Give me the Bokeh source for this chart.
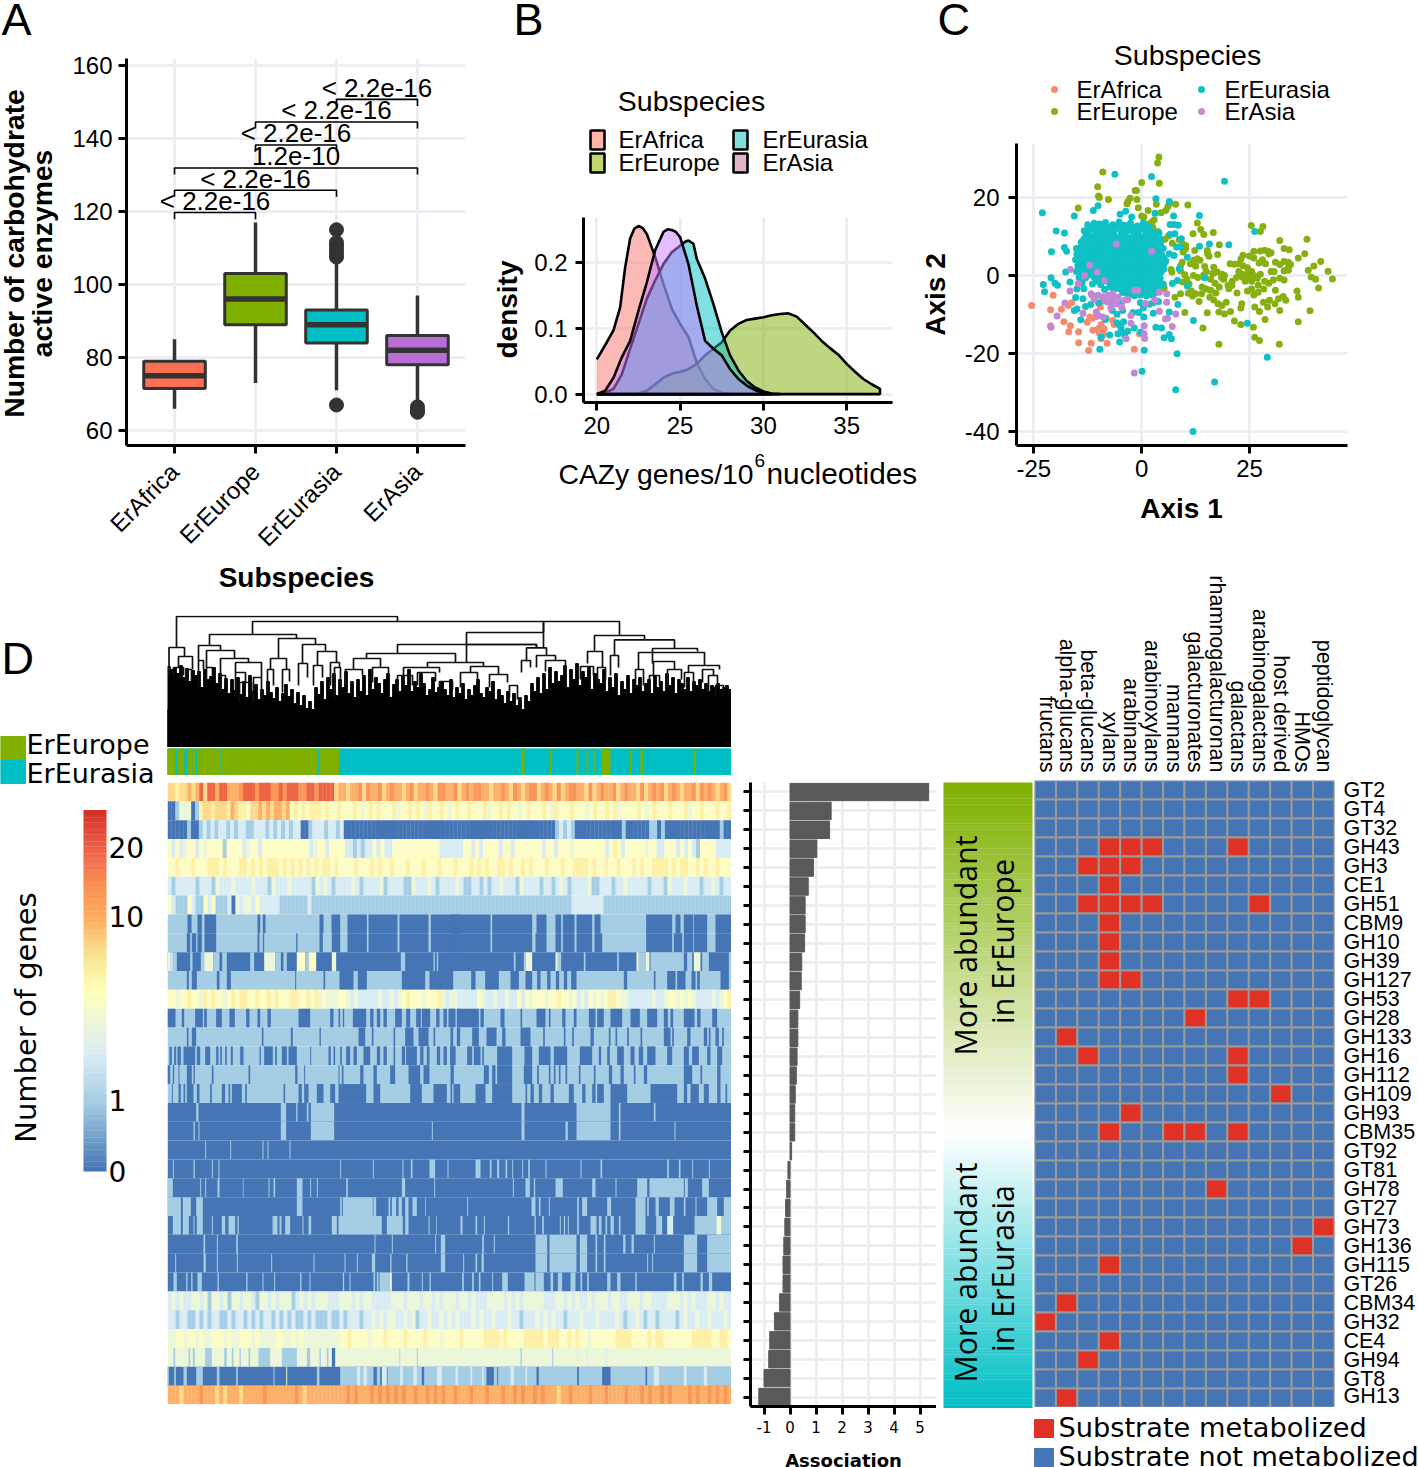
import numpy as np
from bokeh.plotting import figure
from bokeh.layouts import column
from bokeh.embed import file_html
from bokeh.resources import INLINE
from bokeh.models import Range1d, FactorRange, FixedTicker, LinearColorMapper, ColumnDataSource, CategoricalAxis
from bokeh.core.properties import value
from bokeh.transform import transform

SANS = "Liberation Sans"
DEJA = "DejaVu Sans"
NOTO = "Open Sans"

SUBSPECIES = ["ErAfrica", "ErEurope", "ErEurasia", "ErAsia"]
BOX_FILL = ["#fb7052", "#7fb000", "#00bfc4", "#b96ed6"]

# ---------- panel A ----------
box_q1 = [71.5, 89, 84, 78]
box_med = [75, 96, 89, 82]
box_q3 = [79, 103, 93, 86]
box_lo = [66, 73, 71, 68]
box_hi = [85, 117, 108, 97]
out_x = [3, 3, 3, 3, 3, 3, 3, 4, 4, 4]
out_y = [115, 111.5, 110.5, 109.5, 108.5, 107.5, 67, 66.5, 65.5, 65]
brk_a = [1, 1, 1, 2, 2, 3]
brk_b = [2, 3, 4, 3, 4, 4]
brk_y = [119.7, 125.8, 131.9, 138.2, 144.5, 150.7]
brk_txt = ["< 2.2e-16", "< 2.2e-16", "1.2e-10", "< 2.2e-16", "< 2.2e-16", "< 2.2e-16"]

# ---------- panel B ----------
af_x = [20, 20.6, 21, 21.4, 21.7, 22, 22.25, 22.5, 22.75, 23, 23.5, 24, 24.5, 25, 25.5, 26, 26.5, 27, 27.5, 28]
af_y = [.053, .079, .097, .132, .193, .237, .252, .256, .253, .244, .209, .168, .13, .107, .087, .048, .023, .008, .002, 0]
eu_x = [20, 22.3, 22.5, 23, 23.5, 24, 24.5, 25, 25.5, 26, 26.5, 27, 27.5, 28, 28.5, 29, 29.5, 30, 30.5, 31, 31.5, 32, 32.5, 33, 33.5, 34, 34.5, 35, 35.5, 36, 36.5, 37]
eu_y = [0, 0, .001, .005, .015, .025, .031, .034, .038, .046, .059, .069, .079, .097, .107, .113, .115, .117, .12, .122, .123, .118, .106, .094, .081, .07, .06, .046, .034, .023, .015, .008]
ea_x = [20, 20.5, 21, 21.5, 22, 22.5, 23, 23.5, 24, 24.5, 25, 25.3, 25.5, 25.8, 26, 26.5, 27, 27.5, 28, 28.5, 29, 29.5, 30, 30.5, 31]
ea_y = [0, .002, .008, .03, .069, .107, .145, .173, .198, .216, .226, .232, .234, .229, .206, .176, .137, .094, .059, .036, .02, .01, .004, .001, 0]
as_x = [20, 20.5, 21, 21.5, 22, 22.5, 23, 23.5, 24, 24.25, 24.5, 24.75, 25, 25.5, 26, 26.5, 27, 27.5, 28, 28.5, 29, 29.5, 30, 30.5]
as_y = [0, .005, .025, .056, .081, .127, .17, .219, .247, .251, .25, .247, .239, .198, .135, .081, .069, .059, .038, .023, .013, .006, .002, 0]

# ---------- panel C (axis 1, axis 2) ----------
africa_pts = [(-25.5,-7.7),(-20.5,-5.1),(-21.1,-8.8),(-18.6,-8.7),(-17,-7.7),(-21.1,-12.9),(-18,-11.9),(-16.5,-12.9),(-16.9,-14.5),(-14.6,-14.5),(-14.6,-17.3),(-11.7,-17.4),(-12.3,-19.3),(-12.6,-12),(-12,-10.7),(-11.3,-14.1),(-10.1,-13.7),(-9.4,-12.6),(-8.7,-13.7),(-9.6,-8.1),(-6.7,-11.6),(-6.4,-12.6),(-8,-17.4),(-9.4,-16.3),(-1.7,-19),(-.5,-15),(-11.5,-11),(-9.8,-14.8),(-16.2,-7),(-8.2,-11),(-10.6,-10.6),(-8.9,-15.2)]
europe_pts = [(4,30.4),(3.7,28.9),(-9,26.6),(0,23.9),(4.1,23.7),(-10.2,22.8),(-10,20.4),(-9.8,20),(-7.7,19.5),(-14.7,17.3),(-1.5,21.8),(-1.2,21.8),(-2.7,19.8),(-3.2,19),(-3.4,18.4),(-1.1,19.5),(3.4,18.3),(-.8,17.4),(1.5,16.7),(4.5,16.1),(5.6,16.7),(6.1,17.7),(6.5,18.6),(7.9,18.3),(10.7,18.1),(0,15.3),(.5,15),(2.9,14.3),(2.4,13.7),(1.8,13.3),(2.6,12.4),(3.8,11.3),(12.9,13.5),(13.7,11.8),(14.4,10.5),(11.9,10.7),(16.6,11),(6.2,10.1),(5.4,9.3),(8.7,9.2),(7.1,8.3),(9.5,8.1),(10.2,7.7),(10.2,6.9),(12.3,6.4),(9.6,6),(15.2,6.4),(15.3,5.6),(15.6,4.9),(17.6,5.4),(18,7.9),(12.9,4.3),(12.1,3.9),(13.5,3.9),(11.3,3),(9.4,3.4),(9,2.4),(12.5,2.4),(14.6,2.3),(16.7,2.1),(17.5,.9),(18.6,.3),(14.4,.2),(14.6,-.6),
(25.4,12.8),(28.1,12.6),(27.5,11.3),(32,9),(38.3,9.3),(33,6.9),(34.2,6.6),(37.8,5.6),(36.3,4.5),(41.5,3.6),(43.2,1.1),(39.9,2.4),(38.6,1.3),(44.2,-.9),(40.3,-1),(39.3,-.4),(41,-3.2),(36,-4),(36.3,-5.6),(39,-9.1),(36.3,-11.9),(31.9,-17.7),(27.3,-16.7),(26.2,-15.9),(25.9,-13.3),(28.6,-11.3),(32,-9),(33.4,-6.4),(32.8,-5.4),(31.7,-6),(30.9,-7.3),(29.2,-8.1),(29.6,-6.4),(28.2,-6.9),(27.3,-9.3),(26.2,-8.1),(23.2,-7.3),(23,-8.4),(21.5,-11.7),(23,-12.6),(20.6,-9.3),(19.2,-9.9),(17.9,-17.7),(14.2,-13.5),(10,-9.5),(15.2,-9.6),(17.9,-9.4),(17.7,-7.3),(18.6,-7.7),(19.6,-6.9),(22.1,-4.5),(20.2,-3.4),(20.9,-2.6),(15.8,-5.6),(13.3,-6.7),(12.5,-4.7),(11.5,-4),(9,-4.7),(7.7,-5.6),(5.2,-3.3),
(24,0),(24.5,.5),(23.5,-.5),(25,-.5),(25.5,-1.5),(24,-1.5),(23,.5),(22.5,1),(25.5,1),(26,0),(26.8,-.7),(27.5,.3),(24.5,2),(23.5,2.5),(22.5,3),(21.5,2.9),(20.5,3),(23,4.2),(23.5,5.2),(25,5),(26,4.5),(27.2,3.2),(28,4),(28.7,3),(30,5.8),(29.3,6.2),(27.5,6.3),(26,6.2),(28.5,6.5),(29.5,5.5),(31,3.4),(32,2.8),(33,3.6),(34,2),(34.5,2.8),(34,3.4),(33,1.2),(34,1.3),(30,1),(30.7,1),(32,-.7),(30.5,-1.2),(29.5,-2),(28.5,-1.5),(27,-2.5),(25.5,-3.5),(24.5,-4),(26,-5),(27,-4.3),(28.3,-3.5),(31,-3.8),(33,-1.2),(22,-.5),(21,-1.5),(20,-2.5),(19,-1),
(12,0),(13,-.5),(15,1),(16,-1),(17,-2),(18,-3),(14,-3),(15,-3.5),(16,-3.8),(10.5,-1),(11,-2.2),(9.5,-1.7),(16.5,.5),(18.5,-.5),(19.2,0),(11.8,-5.3),(13.9,-4.7),(16.7,-6.3),(17.2,-4.5),(10.8,-4.6),(7,.9),(6.8,1.5),(9,1.2),(10,.2),(0,5),(-1.5,-2.5),(3,-1),(5.1,-3.1)]
eurasia_pts = [(-23,16.1),(-19.8,11.4),(-17.9,10.9),(-15.6,15.3),(-11.2,16.7),(-10.1,17.9),(-6.2,26),(2.3,25.4),(3.3,19.7),(6.4,19),(3.1,16),(-5,15.7),(-3.7,16.5),(-2.3,15),(7.4,15.3),(13.4,15.4),(19.2,24.2),(6.6,13.1),(7.5,13.1),(8.5,12.9),(7.7,10.7),(6.6,10.5),(9.2,9.4),(13.4,7.5),(15.7,8.1),(20.2,7.9),(26.2,11.3),(-20.9,6.1),(-17.9,7.2),(-17.4,6.2),(-15.1,6.9),(-21,-.6),(-22.8,-2.3),(-22.5,-4.2),(-20.1,-2),(-19.5,-2.5),(-17.6,.9),(-16.6,-1.7),(-15.6,-9),(-15,-8.6),(-14.1,-11.4),(-15.3,-5.7),(-8.4,-11.3),(-9.4,-15.9),(-7.4,-15.3),(-5.1,-17.1),(-9.7,-19),(.6,-19.2),(.1,-24.6),(8.2,-20.1),(7.9,-29.4),(16.9,-27.4),(11.9,-40.1),(12,-11.6),(24.5,-12.3),(29.1,-21),(5.2,-16),(6.9,-16.3),(6.4,-15.2),(4.6,-13.5),(3.3,-13.3),(-1.7,-13.5),(-3.2,-14.3),(-4.8,-13.3),(-5.5,-15),(-.2,-14.6),(6.4,-9.4),(8.4,-7.5),(2.7,-9.7),(.5,-10.7),(10.6,-2.7),(14.6,-.6),(10.6,4.7),(8.7,1.7),(8.3,-1.3),(7.1,-2.1),(9,7.3),(8.1,7.3),(6.4,5.6),(7.5,5.1),
(-5,-13),(-4.2,-11.9),(-5.7,-12.2),(-3.9,-15.5),(-4.6,-14.4),(-13,-8),(-11.8,-7.5),(-10,-7),(-9,-6.6),(-6.8,-9),(-5.7,-10),(-4.4,-9),(-2,-9.5),(-.7,-9.5),(.4,-8.4),(1.8,-7.4),(2.7,-7),(3.9,-6.7),(-.3,-7),(-4.8,-7.2),(-7,-6.7),(-13.6,-6),(-11.5,-5),(-15,-3.5),(-13.4,-3.4),
(-12.5,13),(-11,13.4),(-9.8,13.2),(-8.4,13.6),(-6.7,13),(-5.2,13.7),(-4,12.9),(-2.6,13.4),(-1,12.7),(.4,13.6),(1.8,12.6),
(-13.3,11.5),(-12,11.8),(-10.6,11.2),(-9,11.7),(-7.8,11.1),(-6.3,11.6),(-4.7,11.1),(-3.3,11.7),(-2,11.1),(-.6,11.6),(1,11.1),(2.5,11),(4,10.9),
(-13,10),(-11.5,9.8),(-10.2,10.3),(-8.7,9.9),(-7.3,10.2),(-5.8,9.8),(-4.4,10.1),(-3,9.7),(-1.5,10),(0,9.8),(1.3,10),(2.8,9.7),(4.2,9.5),
(-14,8.5),(-12.7,8.6),(-11.2,8.3),(-9.9,8.6),(-8.4,8.2),(-7,8.6),(-5.6,8.2),(-4.2,8.5),(-2.8,8.2),(-1.3,8.5),(.1,8.2),(1.5,8.5),(3,8.2),(4.4,8.3),
(-14.6,7),(-13.2,6.9),(-11.8,7.1),(-10.4,6.8),(-9,7.1),(-7.6,6.8),(-6.2,7.1),(-4.8,6.8),(-3.4,7),(-2,6.7),(-.6,7),(.8,6.8),(2.2,7),(3.6,6.8),(5,6.9),
(-15,5.5),(-13.6,5.4),(-12.2,5.6),(-10.8,5.3),(-9.4,5.6),(-8,5.3),(-6.6,5.6),(-5.2,5.3),(-3.8,5.5),(-2.4,5.2),(-1,5.5),(.4,5.2),(1.8,5.5),(3.2,5.2),(4.6,5.4),
(-15.3,4),(-13.9,3.9),(-12.5,4.1),(-11.1,3.8),(-9.7,4.1),(-8.3,3.8),(-6.9,4.1),(-5.5,3.8),(-4.1,4),(-2.7,3.7),(-1.3,4),(.1,3.7),(1.5,4),(2.9,3.7),(4.3,3.9),(5.6,3.7),
(-14.8,2.5),(-13.4,2.4),(-12,2.6),(-10.6,2.3),(-9.2,2.6),(-7.8,2.3),(-6.4,2.6),(-5,2.3),(-3.6,2.5),(-2.2,2.2),(-.8,2.5),(.6,2.2),(2,2.5),(3.4,2.2),(4.8,2.4),
(-15.1,1),(-13.7,.9),(-12.3,1.1),(-10.9,.8),(-9.5,1.1),(-8.1,.8),(-6.7,1.1),(-5.3,.8),(-3.9,1),(-2.5,.7),(-1.1,1),(.3,.7),(1.7,1),(3.1,.7),(4.5,.9),
(-14.5,-.5),(-13,-.6),(-11,-.4),(-9.7,-.7),(-8.3,-.4),(-6.9,-.7),(-5.5,-.4),(-4.1,-.6),(-2.7,-.9),(-1.3,-.6),(.1,-.9),(1.5,-.6),(2.9,-.9),(4.3,-.7),
(-13.8,-2),(-11.4,-2.2),(-9.5,-2.4),(-7.4,-2),(-6,-2.2),(-4.6,-2),(-3.2,-2.3),(-1.8,-2),(-.4,-2.3),(1,-2),(2.4,-2.3),(3.8,-2),(5,-2.2),
(-8.6,-3.6),(-6.5,-3.6),(-5.1,-3.4),(-3.7,-3.7),(-2.3,-3.4),(-.9,-3.7),(.5,-3.4),(1.9,-3.7),(3.3,-3.4),
(-3.1,-5),(-1.7,-5.2),(-.3,-5),(1.1,-5.2),(2.5,-5.1),
(-11.7,12.4),(-10.3,12.5),(-8.9,12.3),(-7.4,12.4),(-5.9,12.3),(-4.5,12.4),(-3.2,12.2),(-1.7,12.3),(-.1,12.2),(1.1,12.2),(-12.2,10.8),(-9.4,10.8),(-6.5,10.9),(-3.7,10.6),(-.8,10.7),(2,10.5),(3.3,10.5),
(-13.4,9.3),(-11.9,9.2),(-10.6,9.3),(-9.2,9.2),(-7.7,9.4),(-6.3,9.1),(-4.9,9.3),(-3.5,9),(-2.1,9.2),(-.6,9.1),(.7,9.2),(2.2,9),(3.6,9),(-13.3,7.8),(-11.9,7.8),(-10.5,7.7),(-9.2,7.9),(-7.7,7.7),(-6.3,7.9),(-4.9,7.6),(-3.5,7.8),(-2.1,7.5),(-.7,7.8),(.7,7.5),(2.2,7.8),(3.6,7.6),
(-13.9,6.2),(-12.5,6.3),(-11.1,6.1),(-9.7,6.4),(-8.3,6),(-6.9,6.3),(-5.5,6),(-4.1,6.2),(-2.7,5.9),(-1.3,6.2),(.1,6),(1.5,6.2),(2.9,5.9),(4.3,6.1),(-14.3,4.7),(-12.9,4.8),(-11.5,4.6),(-10.1,4.8),(-8.7,4.5),(-7.3,4.8),(-5.9,4.5),(-4.5,4.7),(-3.1,4.4),(-1.7,4.7),(-.3,4.4),(1.1,4.7),(2.5,4.4),(3.9,4.6),(5.2,4.5),
(-14.1,3.2),(-12.7,3.2),(-11.3,3),(-9.9,3.3),(-8.5,3),(-7.1,3.3),(-5.7,3),(-4.3,3.2),(-2.9,2.9),(-1.5,3.2),(-.1,2.9),(1.3,3.2),(2.7,2.9),(4.1,3.1),(5.2,3),(-14.4,1.8),(-13,1.6),(-11.6,1.8),(-10.2,1.5),(-8.8,1.8),(-7.4,1.5),(-6,1.8),(-4.6,1.5),(-3.2,1.7),(-1.8,1.4),(-.4,1.7),(1,1.4),(2.4,1.7),(3.8,1.4),(5.1,1.6),
(-13.8,.2),(-12,.2),(-10.4,.2),(-8.8,.2),(-7.4,.1),(-6,.3),(-4.6,.1),(-3.2,0),(-1.8,.2),(-.4,-.1),(1,.1),(2.4,-.1),(3.8,.1),(-10.5,-1.5),(-8.9,-1.5),(-7.6,-1.3),(-6.2,-1.5),(-4.8,-1.3),(-3.4,-1.6),(-2,-1.3),(-.6,-1.6),(.8,-1.3),(2.2,-1.6),(3.6,-1.4),(-7.4,-3),(-5.8,-2.9),(-4.4,-2.8),(-3,-3),(-1.6,-2.8),(-.2,-3),(1.2,-2.8),(2.6,-3),(4,-2.9),(-4.4,-4.4),(-3,-4.3),(-1,-4.4),(.4,-4.4),(1.8,-4.5),(3.2,-4.4)]
asia_pts = [(-16.5,1.5),(-16.6,-4),(-17.8,-7.1),(-19.6,-10.4),(-21,-13.3),(-1.7,-25.1),(-5.9,8.1),(2.3,6.2),(-12,2.6),(-14.7,-2.1),(-13.2,0),(-11.7,-4.7),(-10.3,.9),(-8.6,-1.3),(-10.1,-5.1),(-9,-5.5),(-7.8,-5.1),(-6.7,-4.7),(-5.5,-5.6),(-6.7,-6.4),(-5.9,-7.3),(-4,-6.4),(-7.8,-6.9),(-1.7,-3.9),(-.9,-3.9),(4.1,-4.3),(5.8,-4.7),(5.8,-6.9),(4.1,-9.2),(7.9,-9.9),(6,-11),(5.5,-11.2),(7.1,-13.1),(.6,-15),(.7,-16.2),(-2.5,-12.3),(-3.6,-16.3),(.6,-12.9),(-2.5,-10.3),(-10.1,-10.3),(-9,-10.7),(-13.6,-9.7),(-10.5,-9.4),(-8.5,-6.5),(-4.6,-8.2),(-3.2,-6.2),(-7.1,-8.4),(-11,-6.1),(.9,-7.2),(3.1,-6.3)]

# ---------- panel D ----------
dendro_links = [
 (9,230,131,100,126),(85,376,126,113,115),(1.5,17,100,72,91),(11,25,91,80,78),(6,16,80,70,72),(19,24,78,62,66),
 (42,129,113,102,109),(31,53,102,87,97),(31,36,87,60,78),(39,67,97,80,89),(39,45,80,60,70),(53,81,89,72,85),(53,58,72,55,62),
 (68,94,85,75,70),(68,78,75,50,65),(72,84,65,45,52),(86,94,70,45,48),
 (111,148,109,89,103),(103,119,89,78,78),(100,106,78,55,62),(115,122,78,55,66),(135,158,103,84,96),(131,140,84,62,70),(150,169,96,82,85),
 (146,155,82,62,70),(163,172,85,62,80),(167,173,80,50,60),
 (230,369,103,94,99.6),(199,288,94,89,85),(186,213,89,78,80),(178,195,78,62,72),(205,221,80,65,72),(260,316,85,80,81),
 (236,272,80,70,75),(230,245,72,55,62),(250,268,75,62,66),(272,285,66,50,58),(303,331,81,75,73),(293,310,75,60,66),(322,340,73,60,65),(342,350,62,50,48),
 (299,369,103,85,99.6),(359,379,99.6,86,92),(354,363,87,75,80),(369,388,92,80,87),(378,398,87,76,78),
 (299,376,115,103,99.6),(376,452,126,115,112),(427,477,112,96,107.6),(420,435,96,84,80),(413,426,81,68,72),(430,438,80,62,68),
 (447,507,107.6,92,99),(443,451,92,72,80),(485,530,99,84,96),(471,537,95,78,82),(468,476,78,60,62),(486,507,86,72,78),(482,492,72,55,62),
 (500,514,78,60,68),(521,552,82,75,78),(517,526,75,60,62),(535,546,78,65,72),(541,550,72,55,62),(548,556,62,50,52)]
blob_h = [81,78,80,74,82,70,79,66,77,72,76,60,78,68,71,80,64,74,58,69,54,68,57,70,53,66,50,72,56,63,48,58,52,66,55,49,60,46,54,63,51,58,44,55,42,52,39,46,38,60,
 53,66,48,70,58,74,52,68,60,76,54,66,50,68,56,72,52,78,58,70,64,54,68,74,50,63,68,56,72,62,78,56,66,60,74,64,52,58,70,55,60,66,58,52,68,50,60,54,64,48,
 58,52,62,68,54,50,60,56,66,48,58,52,44,56,46,54,42,50,38,52,46,64,56,70,54,74,58,80,64,76,66,72,82,60,78,68,84,62,76,70,80,58,74,68,64,78,56,70,60,74,
 52,66,58,72,54,68,62,70,56,64,68,54,72,60,66,56,74,62,70,54,68,64,58,70,56,66,62,68,58,64,56,62,60,64,58,60,62,58]
ann_green = [(0,7.3),(10.3,16.3),(20.3,24.7),(26.3,28),(30,31),(33,34),(35,39.5),(40.3,49.7),(51,52),(53.5,54.5),(55,70),(70.8,106),(106.8,149.7),(152.3,171),
 (354,356.5),(383,383.8),(409.5,410.5),(419.5,420.2),(426,426.7),(434.5,436),(437,439),(440,442.5),(463,463.8),(473.5,475),(527,528)]

ROWS = ["GT2","GT4","GT32","GH43","GH3","CE1","GH51","CBM9","GH10","GH39","GH127","GH53","GH28","GH133","GH16","GH112","GH109","GH93","CBM35","GT92","GT81","GH78","GT27","GH73","GH136","GH115","GT26","CBM34","GH32","CE4","GH94","GT8","GH13"]
association = [5.33,1.58,1.52,1.03,.9,.7,.58,.58,.56,.45,.43,.37,.3,.3,.27,.24,.2,.18,.18,.06,-.08,-.13,-.17,-.2,-.24,-.27,-.27,-.4,-.6,-.78,-.82,-1.0,-1.2]
SUBSTRATES = ["fructans","alpha-glucans","beta-glucans","xylans","arabinans","arabinoxylans","mannans","galacturonates","rhamnogalacturonan","galactans","arabinogalactans","host derived","HMOs","peptidoglycan"]
metabolized = {"GH43":[3,4,5,9],"GH3":[2,3,4],"CE1":[3],"GH51":[2,3,4,5,10],"CBM9":[3],"GH10":[3],"GH39":[3],"GH127":[3,4],"GH53":[9,10],"GH28":[7],"GH133":[1],"GH16":[2,9],"GH112":[9],"GH109":[11],"GH93":[4],"CBM35":[3,6,7,9],"GH78":[8],"GH73":[13],"GH136":[12],"GH115":[3],"CBM34":[1],"GH32":[0],"CE4":[3],"GH94":[2],"GH13":[1]}

LEVELS = ["#4575b4","#a5cde3","#d9ecf4","#ecf6d8","#fcfcc6","#fef0a6","#fed98b","#fdb168","#f9975a","#ee6544","#d73027"]

# ---------- heat rows ----------
heat_text = {
 "GT2":"66566767969979977789998999889899988998999967"+"76778687786787767867787688778678788776778768767886787686788776867877867877686787867876778687876786",
 "GT4":"001333015665666576554667676776745454555454454"+"44543454544453445454354454345445444534454544345444543544454443454454534444543454445444534454445445",
 "GT32":"0000010012121221212211222121212122001222122120"+"00000000000000000000000000000000000000000000000000000121210000000000001000000110100000000000000100",
 "GH43":"424234424344441444423442444444444444234424444"+"22121224242244444444444422222244242444424424444444244244434444444424542444443442244424242144442222",
 "GH3":"44544454445554544455454545554545454545455454"+"44454445454454445444544454445444545454455454454544454445445555454454454445454455554545544545445444",
 "CE1":"2122222122213222322223222132223222221323212"+"22232122223122221132223212222321122121223222132222122123212222311222122322222122213222322212232122",
 "GH51":"4211142114241112032332422222111111121111111"+"11111111111111111111111111111111111111111111111111111111112222222211111111111111111111111111111111",
 "GH53":"44344544354544345455445445454445544545343334"+"43232222232232345444344453233222224322322322424344434454434232434345543322222232234434343222232345",
 "CBM34":"2323223323133231332332133232333123232333222"+"33323233222223332333233232333233232223333232323333322233232322323332332233323322223332323222332322",
 "GH32":"2212211212122112122121212212121211212111211"+"21222122323233223231223223232322232322322232212223232322122232223222232122321221222212322322322232",
 "CE4":"3344344343344434334443433334433434333333333"+"44544443444544445444454443444454444455554544445555545554454544344444455554444545544444445555544554",
 "GH13":"77767777877767677767777787777777876777777777"+"78787778787878787787787878778777877787778778787787877767787777877787777877787877878777787877878787",
}
heat_sparse = {
 "CBM9":(1,[(82,94,0),(112,125,0),(133,168,0),(292,300,0),(308,316,0),(478,490,0),(514,540,0),(562,620,0),(625,712,0),(718,805,0),(812,900,0)],
  [(0,120,0),(125,245,0),(258,288,0),(315,332,0),(337,372,0),(378,425,0),(432,450,0),(587,665,0),(675,690,0),(700,728,0),(730,770,0),(795,843,0)]),
 "GH10":(1,[(80,90,0),(95,108,0),(112,125,0),(133,168,0),(292,298,0),(308,312,0),(408,412,0),(478,488,0),(515,540,0),(562,620,0),(625,712,0),(718,805,0),(812,900,0)],
  [(0,120,0),(125,245,0),(255,288,0),(315,332,0),(337,372,0),(378,425,0),(432,455,0),(587,665,0),(670,695,0),(700,728,0),(730,770,0),(795,843,0)]),
 "GH39":(0,[(22,30,3),(30,38,2),(38,50,1),(90,97,1),(122,132,1),(132,160,3),(160,178,1),(186,200,1),(270,282,1),(312,345,3),(345,362,1),(370,380,1),(410,435,4),(435,445,1),(445,468,4),(515,528,3),(722,735,1),(820,824,1),(830,834,1)],
  [(190,195,1),(220,225,1),(225,245,3),(315,322,3),(322,332,1),(400,405,1),(500,505,1),(558,565,3),(565,585,1),(585,597,3),(600,700,1),(710,725,1),(730,750,3),(755,775,1),(835,843,1)]),
 "GH127":(1,[(80,86,0),(95,110,0),(170,178,0),(200,212,0),(405,408,0),(490,495,0),(538,580,0),(593,620,0),(725,795,0),(808,875,0)],
  [(0,8,0),(62,75,0),(104,145,0),(180,205,0),(225,245,0),(260,270,0),(290,300,0),(316,326,0),(340,350,0),(362,378,0),(520,530,0),(610,615,0),(650,675,0),(680,705,0),(723,735,0),(740,748,0),(810,835,0)]),
 "GH28":(1,[(22,46,0),(65,72,0),(105,128,0),(132,140,0),(168,185,0),(208,224,0),(258,268,0),(292,300,0),(322,332,0),(415,450,0),(510,520,0),(535,540,0),(548,552,0),(578,618,0),(630,640,0),(650,660,0),(670,680,0),(705,725,0),(738,750,0),(768,782,0),(785,810,0),(828,838,0),(850,860,0),(865,880,0),(890,900,0)],
  [(0,15,0),(22,85,0),(90,100,0),(150,162,0),(210,215,0),(258,285,0),(295,300,0),(335,345,0),(370,378,0),(415,435,0),(440,460,0),(480,515,0),(540,568,0),(590,620,0),(640,652,0),(660,668,0),(700,732,0),(740,750,0),(785,800,0)]),
 "GH133":(1,[(80,85,0),(95,108,0),(305,310,0),(392,398,0),(478,482,0),(595,615,0),(635,640,0),(700,705,0),(735,760,0),(775,805,0),(820,825,0),(890,900,0)],
  [(0,8,0),(65,85,0),(108,138,0),(155,165,0),(210,240,0),(278,283,0),(340,345,0),(365,370,0),(420,430,0),(475,480,0),(495,500,0),(530,535,0),(570,575,0),(640,660,0),(665,670,0),(710,720,0),(760,770,0),(775,780,0),(795,805,0),(815,820,0)]),
 "GH16":(1,[(28,35,0),(42,48,0),(52,62,0),(70,105,0),(110,120,0),(135,150,0),(168,175,0),(180,185,0),(195,200,0),(212,218,0),(240,250,0),(298,302,0),(312,338,0),(345,350,0),(365,380,0),(385,410,0),(450,453,0),(505,512,0),(520,525,0),(540,545,0),(558,570,0),(580,590,0),(610,630,0),(650,660,0),(670,680,0),(700,705,0),(725,735,0),(738,770,0),(780,790,0),(800,808,0),(830,840,0),(850,860,0),(870,885,0)],
  [(0,15,0),(50,65,0),(70,90,0),(95,100,0),(140,185,0),(222,245,0),(265,300,0),(310,350,0),(388,425,0),(445,452,0),(470,478,0),(500,520,0),(540,552,0),(565,578,0),(590,615,0),(650,665,0),(700,715,0),(725,745,0),(770,780,0),(800,815,0)]),
 "GH112":(1,[(22,30,0),(38,42,0),(55,58,0),(80,95,0),(100,104,0),(155,160,0),(265,270,0),(405,412,0),(432,435,0),(535,538,0),(545,550,0),(600,610,0),(640,650,0),(690,705,0),(745,780,0),(790,808,0)],
  [(0,10,0),(100,115,0),(125,135,0),(140,185,0),(220,245,0),(260,265,0),(295,300,0),(310,315,0),(325,330,0),(345,350,0),(385,390,0),(430,435,0),(475,485,0),(510,520,0),(550,555,0),(580,590,0),(700,725,0),(750,755,0),(800,810,0)]),
 "GH109":(1,[(35,38,0),(55,62,0),(70,75,0),(80,100,0),(110,118,0),(150,155,0),(185,195,0),(205,210,0),(215,245,0),(255,260,0),(370,375,0),(415,425,0),(432,445,0),(470,490,0),(510,525,0),(535,618,0),(640,660,0),(750,785,0),(820,860,0),(880,900,0)],
  [(0,5,0),(75,105,0),(125,185,0),(225,230,0),(240,250,0),(265,275,0),(300,310,0),(355,370,0),(395,405,0),(425,435,0),(440,460,0),(480,530,0),(600,680,0),(700,710,0),(720,745,0),(760,775,0),(800,810,0),(825,830,0)]),
 "GH93":(0,[(108,115,1),(362,378,1),(408,412,1),(440,445,1),(452,522,1)],[(213,222,1),(378,480,1),(505,510,1),(610,615,1)]),
 "CBM35":(0,[(100,104,1),(115,118,1),(362,378,1),(452,522,1),(815,818,1)],[(213,222,1),(345,352,1),(378,480,1),(505,510,1),(672,675,1)]),
 "GT92":(0,[(135,138,1),(210,213,1),(307,310,1),(322,325,1),(388,391,1)],[]),
 "GT81":(0,[(38,41,1),(100,104,1),(155,158,1),(175,178,1),(540,543,1),(638,641,1),(727,730,1),(752,757,1),(808,825,1),(862,865,1)],
  [(75,90,1),(118,123,1),(140,146,1),(165,170,1),(185,188,1),(215,218,1),(233,238,1),(285,288,1),(390,393,1),(450,455,1),(650,655,1),(685,690,1),(725,728,1),(775,778,1)]),
 "GH78":(0,[(22,38,1),(120,123,1),(135,138,1),(172,178,1),(248,250,1),(325,328,1),(340,345,1),(410,427,1),(450,453,1),(470,473,1),(558,563,1),(725,735,1),(822,825,1)],
  [(187,190,1),(225,238,1),(250,254,1),(315,337,1),(425,435,1),(495,498,1),(560,590,1),(597,700,1),(703,712,1),(755,775,1)]),
 "GT27":(0,[(22,62,1),(68,92,1),(108,128,1),(410,427,1),(540,545,1),(548,638,1),(640,648,1),(685,690,1),(695,708,1),(715,725,1),(735,745,1),(757,770,1),(795,797,1)],
  [(50,53,1),(243,255,1),(265,270,1),(295,298,1),(380,385,1),(395,410,1),(470,482,1),(555,585,1),(590,595,1),(615,625,1),(658,672,1),(700,705,1),(735,738,1),(770,800,1),(820,843,1)]),
 "GH73":(0,[(38,62,1),(68,86,1),(100,103,1),(110,128,1),(155,158,1),(185,195,1),(205,225,1),(232,236,1),(337,352,1),(358,364,1),(375,390,1),(427,430,1),(445,453,1),(515,530,1),(535,665,1),(680,728,1),(735,745,1),(805,808,1),(828,830,1)],
  [(30,36,1),(75,80,1),(100,103,1),(172,176,1),(252,256,1),(275,280,1),(328,331,1),(340,344,1),(352,355,1),(380,385,1),(420,438,1),(445,453,1),(465,470,1),(480,490,1),(505,510,1),(555,585,1),(617,635,1),(650,668,2),(732,843,1),(798,812,3)]),
 "GH136":(0,[(130,135,1),(170,173,1),(228,233,1),(643,646,1),(695,698,1),(825,828,1),(842,855,1)],
  [(95,100,1),(130,133,1),(255,290,1),(297,378,1),(388,410,1),(435,440,1),(460,465,1),(518,525,1),(543,550,1),(610,613,1),(700,740,1),(770,843,1)]),
 "GH115":(0,[(45,48,1),(130,137,1),(170,173,1),(230,233,1),(333,336,1),(460,463,1),(553,556,1),(590,593,1),(635,645,1),(690,694,1),(738,742,1),(842,855,1)],
  [(38,41,1),(75,80,1),(93,100,1),(255,290,1),(297,378,1),(388,410,1),(435,440,1),(460,465,1),(590,593,1),(605,608,1),(700,740,1),(770,843,1)]),
 "GT26":(0,[(40,50,1),(78,82,1),(93,97,1),(112,125,1),(172,176,1),(258,262,1),(307,310,1),(342,345,1),(420,424,1),(448,451,1),(548,552,1),(568,571,1),(640,645,1),(650,655,1),(658,688,1),(688,695,3),(742,748,1),(785,788,1),(808,812,1)],
  [(35,40,1),(65,70,1),(85,90,1),(125,128,1),(155,172,1),(222,252,1),(255,280,1),(300,308,1),(322,335,1),(360,375,1),(390,395,1),(410,415,1),(470,480,1),(500,510,1),(555,558,2),(670,678,1),(695,700,1),(750,757,1),(775,785,1)]),
 "GH94":(3,[(40,45,1),(85,90,1),(98,104,1),(135,155,1),(192,200,1),(215,220,1),(238,242,1),(265,270,1),(295,330,1),(365,410,1),(440,450,1),(478,482,1),(500,505,1),(515,525,0),(718,720,1),(770,773,1)],
  [(210,214,1),(305,308,1),(380,383,2),(408,411,2),(465,470,2)]),
 "GT8":(0,[(22,26,1),(42,47,1),(70,80,1),(108,128,1),(170,178,1),(228,233,1),(340,343,1),(378,381,3),(470,478,1),(540,640,1),(650,660,1),(665,680,2),(682,785,1),(792,900,1),(590,600,2),(610,620,2),(720,728,2),(760,770,2),(830,845,2)],
  [(0,108,1),(130,140,1),(143,258,1),(265,380,1),(385,455,1),(480,585,1),(590,843,1),(15,22,2),(60,65,2),(95,100,2),(180,190,2),(225,230,2),(610,625,2),(700,708,2),(760,770,2)]),
}

# ---------- colour ramps ----------
bar_stops = [0, .19, .33, .42, .5, .6, .7, .8, .87, 1]
bar_cols = ["#4575b4", "#a5cde3", "#dcedf3", "#eef6d6", "#ffffb8", "#f7e38f", "#fdae61", "#f98e52", "#f26d50", "#d73027"]
side_stops = [0, .56, 1]
side_cols = ["#7fb000", "#ffffff", "#00bfc4"]


def hexrgb(c):
    return [int(c[i:i + 2], 16) for i in (1, 3, 5)]


def ramp(stops, cols, n):
    rgb = np.array([hexrgb(c) for c in cols], float)
    t = np.linspace(0, 1, n)
    return ["#%02x%02x%02x" % tuple(int(round(np.interp(u, stops, rgb[:, k]))) for k in range(3)) for u in t]


placed = []


def mk(x0, y0, x1, y1, xr, yr, l=0, r=0, t=0, b=0):
    p = figure(width=x1 - x0 + l + r, height=y1 - y0 + t + b, x_range=xr, y_range=yr,
               min_border_left=l, min_border_right=r, min_border_top=t, min_border_bottom=b,
               output_backend="svg", toolbar_location=None, tools="", frame_align=False)
    p.outline_line_color = None
    p.background_fill_color = "white"
    placed.append((p, x0 - l, y0 - t, y1 + b))
    return p


def style(p, xticks=None, yticks=None, size="24px", grid="#edeef4", font=SANS):
    for ax in (p.xaxis[0], p.yaxis[0]):
        ax.axis_line_color = "black"
        ax.axis_line_width = 3
        ax.major_tick_line_color = "black"
        ax.major_tick_line_width = 3
        ax.major_tick_out = 8
        ax.major_tick_in = 0
        ax.minor_tick_line_color = None
        ax.major_label_text_font = font
        ax.major_label_text_font_size = size
        ax.major_label_text_color = "black"
        ax.major_label_standoff = 6
    if xticks is not None:
        p.xaxis[0].ticker = FixedTicker(ticks=xticks)
    if yticks is not None:
        p.yaxis[0].ticker = FixedTicker(ticks=yticks)
    p.xgrid.grid_line_color = grid
    p.ygrid.grid_line_color = grid
    p.xgrid.grid_line_width = 3
    p.ygrid.grid_line_width = 3


# ---------- A ----------
pa = mk(126, 58, 465, 445, Range1d(.407, 4.593), Range1d(55.9, 161.9), l=62, r=10, t=8, b=120)
style(pa, [1, 2, 3, 4], [60, 80, 100, 120, 140, 160])
pa.xaxis[0].major_label_overrides = {i + 1: s for i, s in enumerate(SUBSPECIES)}
pa.xaxis[0].major_label_orientation = np.pi / 4
pa.xaxis[0].major_label_text_font_size = "24px"
pa.xaxis[0].major_label_standoff = 14
xs = [1, 2, 3, 4]
pa.segment(xs, box_lo, xs, box_q1, line_color="#333333", line_width=3.5)
pa.segment(xs, box_q3, xs, box_hi, line_color="#333333", line_width=3.5)
pa.vbar(x=xs, bottom=box_q1, top=box_q3, width=.76, fill_color=BOX_FILL, line_color="#333333", line_width=3)
pa.segment([x - .38 for x in xs], box_med, [x + .38 for x in xs], box_med, line_color="#333333", line_width=5.5)
pa.scatter(out_x, out_y, size=14, color="#333333")
for a, b, y, s in zip(brk_a, brk_b, brk_y, brk_txt):
    pa.line([a, a, b, b], [y - 1.8, y, y, y - 1.8], line_color="black", line_width=1.6)
    pa.text([(a + b) / 2], [y + 3.2], text=[s], text_font=value(SANS), text_font_size="26px",
            text_align="center", text_baseline="middle", text_color="black")

# ---------- B ----------
pb = mk(583, 217, 892, 402, Range1d(19.2, 37.75), Range1d(-.0128, .269), l=70, r=10, t=5, b=45)
style(pb, [20, 25, 30, 35], [0, .1, .2])
pb.yaxis[0].major_label_overrides = {0: "0.0", .1: "0.1", .2: "0.2"}
pb.yaxis[0].major_label_standoff = 8
for xv, yv, col in [(af_x, af_y, "#f8766d"), (eu_x, eu_y, "#7cae00"), (ea_x, ea_y, "#00bfc4"), (as_x, as_y, "#c77cff")]:
    pb.patch(xv + [xv[-1], xv[0]], yv + [0, 0], fill_color=col, fill_alpha=.5, line_color=None)
    pb.line(xv + [xv[-1], xv[0]], yv + [0, 0], line_color="black", line_width=2.6)

# ---------- C ----------
pc = mk(1016, 143, 1347, 445, Range1d(-29, 47.7), Range1d(-43.7, 33.9), l=70, r=10, t=5, b=45)
style(pc, [-25, 0, 25], [-40, -20, 0, 20])
pc.yaxis[0].major_label_standoff = 9
pc.xaxis[0].major_label_overrides = {-25: "-25", 0: "0", 25: "25"}
pc.yaxis[0].major_label_overrides = {-40: "-40", -20: "-20", 0: "0", 20: "20"}
for pts, col in [(africa_pts, "#f58a6e"), (europe_pts, "#86b010"), (eurasia_pts, "#0fc0c4"), (asia_pts, "#c586d6")]:
    pc.scatter([q[0] for q in pts], [q[1] for q in pts], size=7, fill_color=col, line_color=None)

# ---------- D: dendrogram ----------
pd_ = mk(167, 615, 731, 747, Range1d(0, 564), Range1d(0, 132))
pd_.axis.visible = False
pd_.grid.visible = False
n = len(blob_h)
step = 564 / n
pd_.quad(left=[0], right=[564], bottom=[0], top=[38], color="black")
pd_.vbar(x=[(i + .5) * step for i in range(n)], top=blob_h, bottom=0, width=step * .9, color="black")
for xa, xb, h, ha, hb in dendro_links:
    pd_.line([xa, xa, xb, xb], [ha, h, h, hb], line_color="#111111", line_width=1.7)

# ---------- D: annotation strip ----------
pn = mk(167, 748, 731, 775, Range1d(0, 564), Range1d(0, 1))
pn.axis.visible = False
pn.grid.visible = False
pn.quad(left=[0], right=[564], bottom=[0], top=[1], color="#00bfc4")
pn.quad(left=[a for a, _ in ann_green], right=[b for _, b in ann_green], bottom=0, top=1, color="#7fb000")

# ---------- D: heat map ----------
ph = mk(167, 782, 731, 1404, Range1d(0, 564), Range1d(33, 0))
ph.axis.visible = False
ph.grid.visible = False
mapper = LinearColorMapper(palette=LEVELS, low=-.5, high=10.5)
L, R, B, T, V = [], [], [], [], []


def add(i, a, b, lv):
    L.append(a); R.append(b); B.append(i + 1); T.append(i); V.append(lv)


for i, name in enumerate(ROWS):
    if name in heat_text:
        s = heat_text[name]
        w = 564 / len(s)
        for j, c in enumerate(s):
            add(i, j * w, (j + 1) * w + .3, int(c, 16))
    else:
        base, left_runs, right_runs = heat_sparse[name]
        add(i, 0, 564, base)
        for a, b, lv in left_runs:
            add(i, (a - 22) / 3, (b - 22) / 3, lv)
        for a, b, lv in right_runs:
            add(i, (a + 849) / 3, (b + 849) / 3, lv)
ph.quad(left="l", right="r", bottom="b", top="t", fill_color=transform("v", mapper), line_color=None,
        source=ColumnDataSource(dict(l=L, r=R, b=B, t=T, v=V)))

# ---------- D: association bars ----------
row_pos = list(range(len(ROWS)))
pbar = mk(750, 782, 936, 1406, Range1d(-1.52, 5.63), Range1d(32.5, -.5), l=14, b=36)
style(pbar, [-1, 0, 1, 2, 3, 4, 5], row_pos, size="15px", font=DEJA)
pbar.xaxis[0].major_label_overrides = {-1: "-1"}
pbar.yaxis[0].major_label_overrides = {i: "" for i in row_pos}
pbar.yaxis[0].major_label_standoff = 0
pbar.yaxis[0].major_tick_out = 7
pbar.hbar(y=row_pos, left=0, right=association, height=.92, color="#595959")

# ---------- D: substrate matrix ----------
pm = mk(1034, 780, 1336, 1407, FactorRange(factors=SUBSTRATES, range_padding=0), FactorRange(factors=ROWS[::-1], range_padding=0), r=82, t=212)
pm.grid.visible = False
pm.xaxis.visible = False
pm.yaxis.visible = False
ax_top = CategoricalAxis(axis_line_color=None, major_tick_line_color=None, minor_tick_line_color=None, major_label_orientation=-np.pi / 2,
                         major_label_text_font=SANS, major_label_text_font_size="21.5px", major_label_standoff=2, major_label_text_color="black")
ax_right = CategoricalAxis(axis_line_color=None, major_tick_line_color=None, minor_tick_line_color=None,
                           major_label_text_font=SANS, major_label_text_font_size="21.5px", major_label_standoff=3, major_label_text_color="black")
pm.add_layout(ax_top, "above")
pm.add_layout(ax_right, "right")
rx, ry, rc = [], [], []
for r_ in ROWS:
    for j, sub in enumerate(SUBSTRATES):
        rx.append(sub); ry.append(r_)
        rc.append("#e03127" if j in metabolized.get(r_, []) else "#4575b4")
pm.rect(rx, ry, width=1, height=1, fill_color=rc, line_color="#9a9a9a", line_width=2)

# ---------- overlay: panel letters, titles, legends, colour ramps ----------
ov = figure(width=1418, height=1467, x_range=Range1d(0, 1418), y_range=Range1d(1467, 0), output_backend="svg",
            toolbar_location=None, tools="", min_border=0, background_fill_color=None, border_fill_color=None, frame_align=False)
ov.axis.visible = False
ov.grid.visible = False
ov.outline_line_color = None


def txt(x, y, s, size, font=SANS, style_="normal", angle=0, align="left"):
    ov.text([x], [y], text=[s], text_font=value(font), text_font_size=f"{size}px", text_font_style=style_,
            angle=angle, angle_units="deg", text_align=align, text_baseline="middle", text_color="black")


for s, x, y in [("A", 1, 19), ("B", 513, 19), ("C", 937, 19), ("D", 1, 658)]:
    txt(x, y, s, 45)
txt(13.5, 253, "Number of carbohydrate", 28.3, style_="bold", angle=90, align="center")
txt(41, 253, "active enzymes", 28.3, style_="bold", angle=90, align="center")
txt(296, 577, "Subspecies", 28, style_="bold", align="center")
txt(507, 309, "density", 28, style_="bold", angle=90, align="center")
txt(558, 473, "CAZy genes/10", 28.3)
txt(754, 460, "6", 19)
txt(766, 473, "nucleotides", 29.8)
txt(691, 100, "Subspecies", 28.5, align="center")
for (kx, ky, col, s, tx) in [(590, 130, "#ffb6a4", "ErAfrica", 618), (590, 153, "#bfd66f", "ErEurope", 618),
                             (733, 130, "#7fdfda", "ErEurasia", 762), (733, 153, "#e0b4cb", "ErAsia", 762)]:
    ov.quad(left=[kx], right=[kx + 14], top=[ky], bottom=[ky + 19], fill_color=col, line_color="black", line_width=2.6)
    txt(tx, ky + 9, s, 24)
txt(1187, 54, "Subspecies", 28.5, align="center")
for (kx, ky, col, s, tx) in [(1054, 89, "#f58a6e", "ErAfrica", 1076), (1054, 111, "#86b010", "ErEurope", 1076),
                             (1201, 89, "#0fc0c4", "ErEurasia", 1224), (1201, 111, "#c98ec4", "ErAsia", 1224)]:
    ov.scatter([kx], [ky], size=7, fill_color=col, line_color=None)
    txt(tx, ky, s, 24)
txt(935, 294, "Axis 2", 28, style_="bold", angle=90, align="center")
txt(1181, 508, "Axis 1", 28, style_="bold", align="center")

ov.quad(left=[0], right=[25], top=[736], bottom=[760], color="#7fb000")
ov.quad(left=[0], right=[25], top=[760], bottom=[783], color="#00bfc4")
txt(26, 744, "ErEurope", 27, DEJA)
txt(26, 773, "ErEurasia", 27, DEJA)

cols = ramp(bar_stops, bar_cols, 150)
edges = np.linspace(1171, 810, 151)
ov.quad(left=83, right=106, top=edges[1:] - .4, bottom=edges[:-1], fill_color=cols, line_color=None)
for s, y in [("20", 847), ("10", 916), ("1", 1100), ("0", 1171)]:
    txt(108, y, s, 28, DEJA)
txt(25, 1017, "Number of genes", 29, DEJA, angle=90, align="center")

cols = ramp(side_stops, side_cols, 200)
edges = np.linspace(782, 1407, 201)
ov.quad(left=943, right=1032, top=edges[:-1], bottom=edges[1:] + .4, fill_color=cols, line_color=None)
txt(965, 945, "More abundant", 30.3, NOTO, angle=90, align="center")
txt(1002, 941, "in ErEurope", 30.3, NOTO, angle=90, align="center")
txt(965, 1272, "More abundant", 30.3, NOTO, angle=90, align="center")
txt(1002, 1268, "in ErEurasia", 30.3, NOTO, angle=90, align="center")

txt(843, 1460, "Association", 18, DEJA, "bold", align="center")
ov.quad(left=[1034], right=[1053], top=[1419], bottom=[1437], color="#e03127")
ov.quad(left=[1034], right=[1053], top=[1448], bottom=[1466], color="#4575b4")
txt(1058, 1427, "Substrate metabolized", 27.2, DEJA)
txt(1058, 1456, "Substrate not metabolized", 27.1, DEJA)

# ---------- absolute placement through stacked margins ----------
children = []
prev_bottom = 0
for p, x, y, bottom in placed:
    p.margin = (y - prev_bottom, 0, 0, x)
    children.append(p)
    prev_bottom = bottom
ov.margin = (-prev_bottom, 0, 0, 0)
children.append(ov)

page = column(*children)
open("out.html", "w").write(file_html(page, INLINE))
